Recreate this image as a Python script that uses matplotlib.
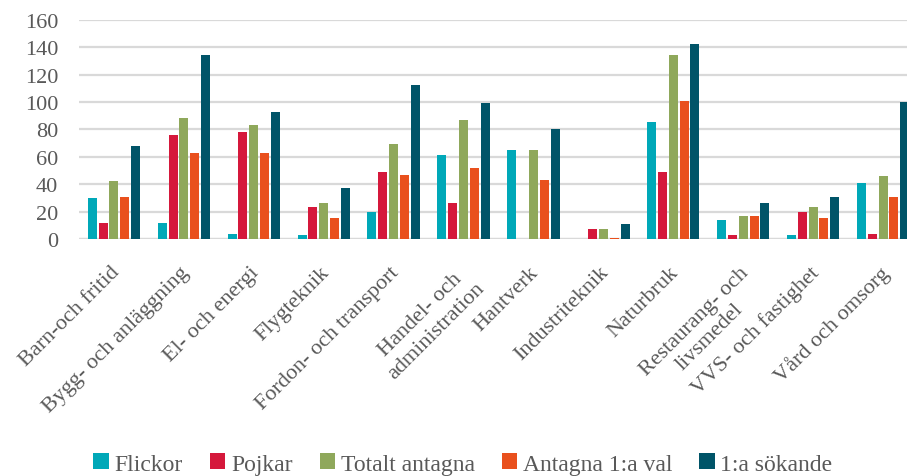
import numpy as np
import matplotlib
matplotlib.use("Agg")
import matplotlib.pyplot as plt
from matplotlib.transforms import ScaledTranslation

categories = [
    "Barn-och fritid",
    "Bygg- och anläggning",
    "El- och energi",
    "Flygteknik",
    "Fordon- och transport",
    "Handel- och\nadministration",
    "Hantverk",
    "Industriteknik",
    "Naturbruk",
    "Restaurang- och\nlivsmedel",
    "VVS- och fastighet",
    "Vård och omsorg",
]

flickor = [30, 12, 4, 3, 20, 61, 65, 0, 85, 14, 3, 41]
pojkar = [12, 76, 78, 23, 49, 26, 0, 7, 49, 3, 20, 4]
totalt_antagna = [42, 88, 83, 26, 69, 87, 65, 7, 134, 17, 23, 46]
antagna_1a_val = [31, 63, 63, 15, 47, 52, 43, 1, 101, 17, 15, 31]
forsta_sokande = [68, 134, 93, 37, 112, 99, 80, 11, 142, 26, 31, 100]

series_names = ["Flickor", "Pojkar", "Totalt antagna", "Antagna 1:a val", "1:a sökande"]
series_values = [flickor, pojkar, totalt_antagna, antagna_1a_val, forsta_sokande]
colors = ["#00A8B8", "#D5183B", "#8FA85B", "#E9501D", "#005468"]

y_ticks = [0, 20, 40, 60, 80, 100, 120, 140, 160]

plt.rcParams["font.family"] = ["Liberation Serif", "DejaVu Serif"]
text_color = "#595959"
tick_fs = 16
legend_fs = 17

fig = plt.figure(figsize=(9.07, 4.77), dpi=100)
ax = fig.add_axes([79 / 907, 237 / 477, 839 / 907, 219.3 / 477])

x = np.arange(len(categories))
step = 0.155
width = 0.129
for i, (name, vals, col) in enumerate(zip(series_names, series_values, colors)):
    ax.bar(x + (i - 2) * step, vals, width=width, color=col, label=name, zorder=3)

ax.set_xlim(-0.5, len(categories) - 0.5)
ax.set_ylim(0, 160)
ax.set_yticks(y_ticks)
ax.yaxis.grid(True, color="#D9D9D9", linewidth=1.6, zorder=0)
ax.set_axisbelow(True)
for s in ax.spines.values():
    s.set_visible(False)
ax.axhline(0, color="#D9D9D9", linewidth=1.6, zorder=2)

ax.tick_params(axis="y", length=0, pad=15, labelsize=tick_fs, labelcolor=text_color)
ax.tick_params(axis="x", length=0, pad=17, labelsize=tick_fs, labelcolor=text_color)
ax.set_xticks(x)
ax.set_xticklabels(categories, rotation=45, ha="right", va="top",
                   rotation_mode="anchor", multialignment="center")
shift = ScaledTranslation(-3 / 72, 0, fig.dpi_scale_trans)
for lab in ax.get_xticklabels():
    lab.set_transform(lab.get_transform() + shift)

fig.legend(loc="center", bbox_to_anchor=(463 / 907, 12 / 477), ncol=5,
           frameon=False, fontsize=legend_fs, labelcolor=text_color,
           handlelength=0.64, handleheight=0.64, handletextpad=0.25,
           columnspacing=1.15)

fig.savefig("out.png", dpi=100)
